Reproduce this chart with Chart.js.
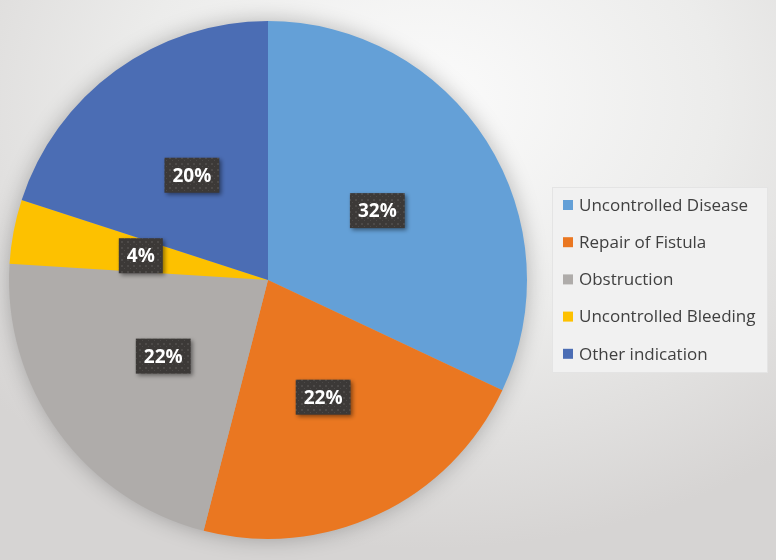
<!DOCTYPE html>
<html>
<head>
<meta charset="utf-8">
<script src="https://cdn.jsdelivr.net/npm/chart.js@4/dist/chart.umd.min.js"></script>
<style>
  html, body { margin: 0; padding: 0; }
  #wrap {
    width: 776px; height: 560px; position: relative;
    background: radial-gradient(ellipse 75% 80% at 55% 18%, #fbfbfb 0%, #ececeb 50%, #d6d4d3 100%);
  }
</style>
</head>
<body>
<div id="wrap"><canvas id="chart" width="776" height="560"></canvas></div>
<script>
const categories = ['Uncontrolled Disease', 'Repair of Fistula', 'Obstruction', 'Uncontrolled Bleeding', 'Other indication']
const shares = [32, 22, 22, 4, 20]
const sliceColors = ['#64a0d7', '#ea7721', '#afacaa', '#fdc100', '#4b6db4']

// dark dotted fill used behind the percentage labels
function makeTexture(ctx) {
  const c = document.createElement('canvas')
  c.width = 6; c.height = 6
  const p = c.getContext('2d')
  p.fillStyle = '#3c3937'
  p.fillRect(0, 0, 6, 6)
  p.fillStyle = '#4d4a48'
  p.fillRect(1, 1, 2, 2)
  p.fillRect(4, 4, 1, 1)
  return ctx.createPattern(c, 'repeat')
}

const pieShadow = {
  id: 'pieShadow',
  beforeDatasetsDraw(chart) {
    const arc = chart.getDatasetMeta(0).data[0]
    if (!arc) return
    const ctx = chart.ctx
    ctx.save()
    ctx.shadowColor = 'rgba(0,0,0,0.28)'
    ctx.shadowBlur = 22
    ctx.fillStyle = '#b0aeac'
    ctx.beginPath()
    ctx.arc(arc.x, arc.y, arc.outerRadius - 1, 0, Math.PI * 2)
    ctx.fill()
    ctx.restore()
  }
}

const sliceLabels = {
  id: 'sliceLabels',
  afterDatasetsDraw(chart) {
    const ctx = chart.ctx
    const tex = makeTexture(ctx)
    chart.getDatasetMeta(0).data.forEach((arc, i) => {
      const mid = (arc.startAngle + arc.endAngle) / 2
      const r = arc.outerRadius * 0.5
      const x = arc.x + Math.cos(mid) * r
      const y = arc.y + Math.sin(mid) * r
      const text = shares[i] + '%'
      ctx.save()
      ctx.font = 'bold 19px "Open Sans", sans-serif'
      const w = ctx.measureText(text).width + 16
      const h = 35
      ctx.shadowColor = 'rgba(0,0,0,0.45)'
      ctx.shadowBlur = 4
      ctx.shadowOffsetX = 2
      ctx.shadowOffsetY = 2
      ctx.fillStyle = tex
      ctx.fillRect(x - w / 2, y - h / 2, w, h)
      ctx.shadowColor = 'transparent'
      ctx.fillStyle = '#ffffff'
      ctx.textAlign = 'center'
      ctx.textBaseline = 'middle'
      ctx.fillText(text, x, y + 1)
      ctx.restore()
    })
  }
}

const sideLegend = {
  id: 'sideLegend',
  afterDraw(chart) {
    const ctx = chart.ctx
    const bx = 552, by = 187, bw = 216, bh = 186
    ctx.save()
    ctx.fillStyle = '#f1f1f1'
    ctx.fillRect(bx, by, bw, bh)
    ctx.strokeStyle = '#e4e4e4'
    ctx.lineWidth = 1
    ctx.strokeRect(bx + 0.5, by + 0.5, bw - 1, bh - 1)
    ctx.font = '17px "Open Sans", sans-serif'
    ctx.textBaseline = 'middle'
    categories.forEach((name, i) => {
      const y = 205 + i * 37.2
      ctx.fillStyle = sliceColors[i]
      ctx.fillRect(563, y - 5, 10, 10)
      ctx.fillStyle = '#404040'
      ctx.fillText(name, 579, y + 1)
    })
    ctx.restore()
  }
}

new Chart(document.getElementById('chart'), {
  type: 'pie',
  data: {
    labels: categories,
    datasets: [{
      data: shares,
      backgroundColor: sliceColors,
      borderWidth: 0
    }]
  },
  options: {
    responsive: false,
    animation: false,
    layout: { padding: { left: 9, right: 249, top: 21, bottom: 21 } },
    plugins: {
      legend: { display: false },
      tooltip: { enabled: false }
    }
  },
  plugins: [pieShadow, sliceLabels, sideLegend]
})
</script>
</body>
</html>
